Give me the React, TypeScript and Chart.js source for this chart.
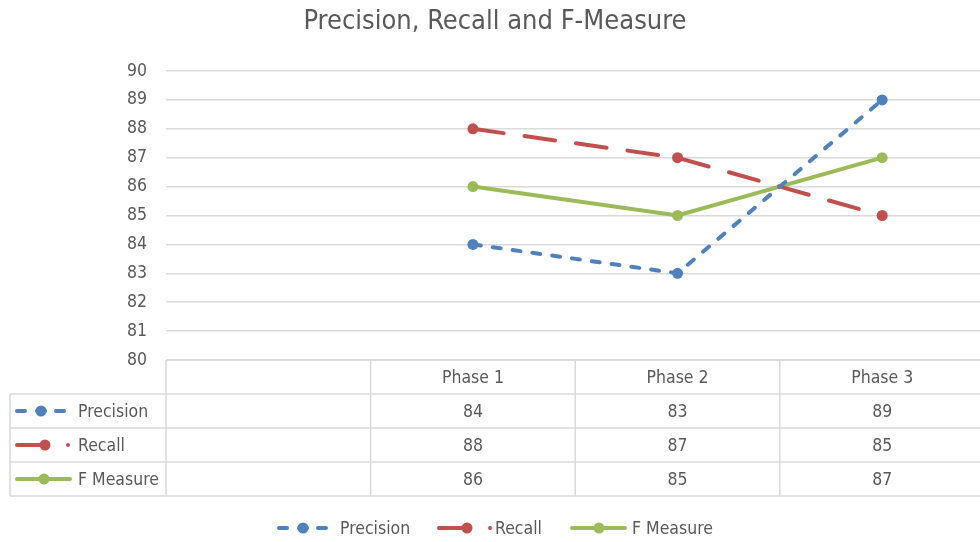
import React, { useEffect, useRef } from "react";
import { Chart, registerables } from "chart.js";

Chart.register(...registerables);

// Categories: the first slot is an empty column, as in the source workbook
const categories = ["", "Phase 1", "Phase 2", "Phase 3"];
const precision = [null, 84, 83, 89];
const recall = [null, 88, 87, 85];
const fMeasure = [null, 86, 85, 87];
const yMin = 80;
const yMax = 90;
const yStep = 1;

const chartTitle = "Precision, Recall and F-Measure";
const FONT = "'DejaVu Sans Condensed', 'Liberation Sans Narrow', sans-serif";
const FS = 17.5;
const TEXT = "#595959";
const GRID = "#d9d9d9";

const BLUE = "#4f81bd";
const RED = "#c0504d";
const GREEN = "#9bbb59";

type Key = "precision" | "recall" | "f";

// Draw a legend key (line sample with marker) starting at x0, centered on y
function drawKey(ctx: CanvasRenderingContext2D, kind: Key, x0: number, y: number) {
  ctx.save();
  ctx.lineWidth = 4;
  ctx.lineCap = "round";
  const seg = (a: number, b: number, color: string) => {
    ctx.strokeStyle = color;
    ctx.beginPath();
    ctx.moveTo(x0 + a, y);
    ctx.lineTo(x0 + b, y);
    ctx.stroke();
  };
  const dot = (cx: number, r: number, color: string) => {
    ctx.fillStyle = color;
    ctx.beginPath();
    ctx.arc(x0 + cx, y, r, 0, Math.PI * 2);
    ctx.fill();
  };
  if (kind === "precision") {
    seg(2, 10, BLUE);
    seg(22, 30, BLUE);
    seg(41, 49, BLUE);
    dot(26, 5.5, BLUE);
  } else if (kind === "recall") {
    seg(2, 32, RED);
    dot(30, 5.5, RED);
    dot(53, 2, RED);
  } else {
    seg(2, 55, GREEN);
    dot(29, 5.5, GREEN);
  }
  ctx.restore();
}

const extras = {
  id: "excelExtras",
  afterDraw(chart: any) {
    const ctx: CanvasRenderingContext2D = chart.ctx;
    const area = chart.chartArea;
    const xs = chart.scales.x;
    const W = chart.width;

    ctx.save();
    // title
    ctx.fillStyle = TEXT;
    ctx.font = `27px ${FONT}`;
    ctx.textAlign = "center";
    ctx.textBaseline = "middle";
    ctx.fillText(chartTitle, W / 2, 22);

    // data table
    const rowH = 34;
    const top = area.bottom;
    const tableLeft = 10;
    const n = categories.length;
    const half = (xs.getPixelForValue(1) - xs.getPixelForValue(0)) / 2;
    const bounds: number[] = [];
    for (let i = 0; i < n; i++) bounds.push(xs.getPixelForValue(i) - half);
    bounds.push(xs.getPixelForValue(n - 1) + half);
    const right = bounds[n];
    const rows = chart.data.datasets.length;
    const bottom = top + rowH * (rows + 1);

    ctx.strokeStyle = GRID;
    ctx.lineWidth = 1.5;
    ctx.beginPath();
    ctx.moveTo(area.left, top);
    ctx.lineTo(right, top);
    for (let r = 1; r <= rows + 1; r++) {
      ctx.moveTo(tableLeft, top + rowH * r);
      ctx.lineTo(right, top + rowH * r);
    }
    ctx.moveTo(tableLeft, top + rowH);
    ctx.lineTo(tableLeft, bottom);
    bounds.forEach((b) => {
      ctx.moveTo(b, top);
      ctx.lineTo(b, bottom);
    });
    ctx.stroke();

    ctx.font = `${FS}px ${FONT}`;
    ctx.fillStyle = TEXT;
    ctx.textAlign = "center";
    categories.forEach((c, i) => {
      ctx.fillText(c, xs.getPixelForValue(i), top + rowH / 2 + 1);
    });
    const kinds: Key[] = ["precision", "recall", "f"];
    chart.data.datasets.forEach((ds: any, r: number) => {
      const cy = top + rowH * (r + 1) + rowH / 2 + 1;
      drawKey(ctx, kinds[r], 15, cy - 1);
      ctx.fillStyle = TEXT;
      ctx.textAlign = "left";
      ctx.fillText(ds.label, 78, cy);
      ctx.textAlign = "center";
      ds.data.forEach((v: number | null, i: number) => {
        if (v !== null) ctx.fillText(String(v), xs.getPixelForValue(i), cy);
      });
    });

    // bottom legend
    const ly = 528;
    const items: { kind: Key; label: string; x: number; tx: number }[] = [
      { kind: "precision", label: chart.data.datasets[0].label, x: 277, tx: 340 },
      { kind: "recall", label: chart.data.datasets[1].label, x: 437, tx: 495 },
      { kind: "f", label: chart.data.datasets[2].label, x: 570, tx: 632 },
    ];
    items.forEach((it) => {
      drawKey(ctx, it.kind, it.x, ly);
      ctx.fillStyle = TEXT;
      ctx.textAlign = "left";
      ctx.fillText(it.label, it.tx, ly + 1);
    });
    ctx.restore();
  },
};

export default function App() {
  const ref = useRef<HTMLCanvasElement>(null);

  useEffect(() => {
    if (!ref.current) return;
    const chart = new Chart(ref.current, {
      type: "line",
      data: {
        labels: categories,
        datasets: [
          {
            label: "Precision",
            data: precision,
            borderColor: BLUE,
            backgroundColor: BLUE,
            borderWidth: 4,
            borderDash: [8, 12],
            borderCapStyle: "round",
            pointRadius: 5.5,
            pointBorderWidth: 0,
            pointBackgroundColor: BLUE,
          },
          {
            label: "Recall",
            data: recall,
            borderColor: RED,
            backgroundColor: RED,
            borderWidth: 4,
            borderDash: [31, 21],
            borderCapStyle: "round",
            pointRadius: 5.5,
            pointBorderWidth: 0,
            pointBackgroundColor: RED,
          },
          {
            label: "F Measure",
            data: fMeasure,
            borderColor: GREEN,
            backgroundColor: GREEN,
            borderWidth: 4,
            borderCapStyle: "round",
            pointRadius: 5.5,
            pointBorderWidth: 0,
            pointBackgroundColor: GREEN,
          },
        ],
      },
      options: {
        responsive: false,
        animation: false,
        layout: { padding: { top: 71, bottom: 182, left: 0, right: 3 } },
        plugins: {
          legend: { display: false },
          title: { display: false },
          tooltip: { enabled: false },
        },
        scales: {
          x: { display: false, offset: true },
          y: {
            min: yMin,
            max: yMax,
            ticks: {
              stepSize: yStep,
              color: TEXT,
              font: { family: FONT, size: FS },
              padding: 19,
            },
            grid: { color: GRID, lineWidth: 1.5, drawTicks: false },
            border: { display: false },
            afterFit(scale: any) {
              scale.width = 166;
            },
          },
        },
      },
      plugins: [extras],
    });
    return () => chart.destroy();
  }, []);

  return (
    <div
      style={{
        position: "fixed",
        left: 0,
        top: 0,
        width: 980,
        height: 542,
        overflow: "hidden",
        background: "#fff",
      }}
    >
      <canvas ref={ref} width={990} height={542} style={{ display: "block" }} />
    </div>
  );
}
